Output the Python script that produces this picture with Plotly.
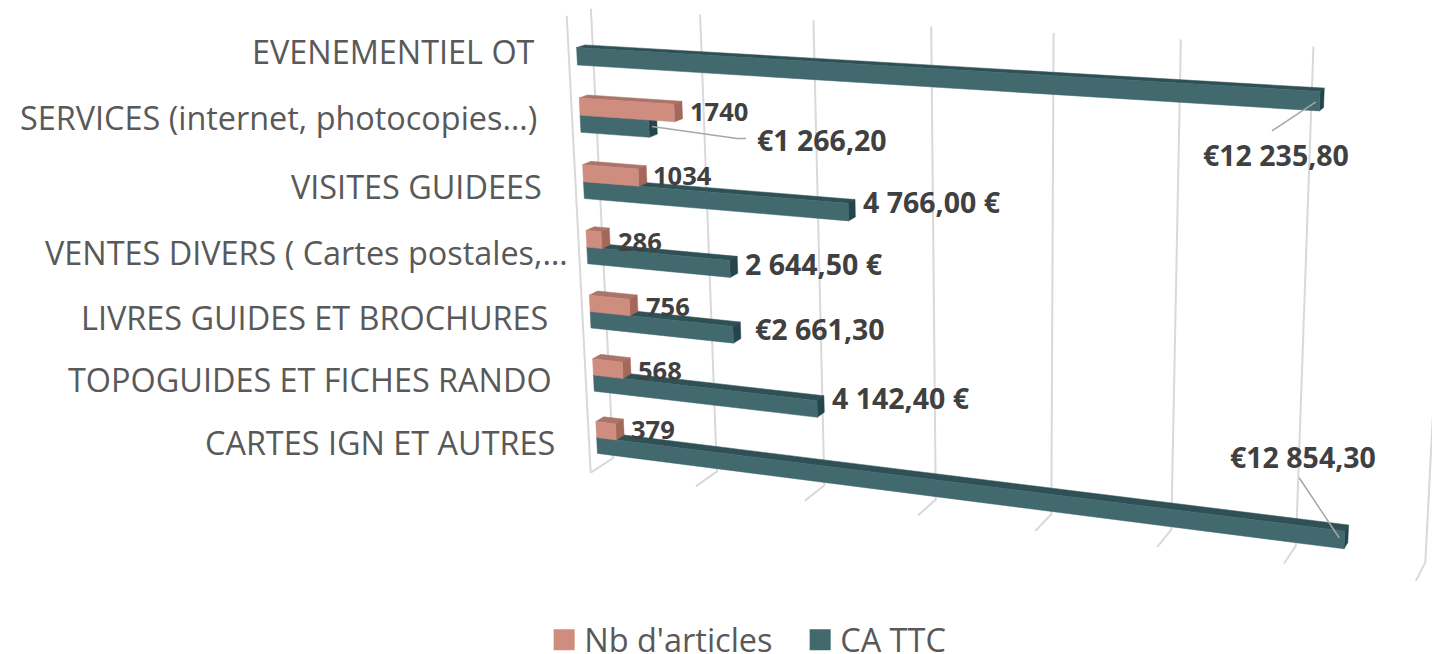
import numpy as np
import plotly.graph_objects as go

# ---- data (bottom category first)
categories = ["CARTES IGN ET AUTRES", "TOPOGUIDES ET FICHES RANDO", "LIVRES GUIDES ET BROCHURES",
              "VENTES DIVERS ( Cartes postales,…", "VISITES GUIDEES",
              "SERVICES (internet, photocopies…)", "EVENEMENTIEL OT"]
nb_articles = [379, 568, 756, 286, 1034, 1740, None]
ca_ttc = [12854.30, 4142.40, 2661.30, 2644.50, 4766.00, 1266.20, 12235.80]
nb_labels = ["379", "568", "756", "286", "1034", "1740", None]
ca_labels = ["€12 854,30", "4 142,40 €", "€2 661,30", "2 644,50 €", "4 766,00 €", "€1 266,20", "€12 235,80"]
value_ticks = [0, 2000, 4000, 6000, 8000, 10000, 12000, 14000]
series_names = ["Nb d'articles", "CA TTC"]

# ---- styling
PINK = dict(front="#CE8D7E", top="#AC7468", side="#A3675B")
TEAL = dict(front="#41696E", top="#2F5155", side="#23454B")
GRID = "#D9D9D9"
LEADER = "#A6A6A6"
CAT_FONT = dict(family="Open Sans", size=32.4, color="#595959")
NB_FONT = dict(family="Open Sans", size=25.5, color="#404040")
CA_FONT = dict(family="Open Sans", size=28.5, color="#404040")
cat_gap = [32, 32, 32, 9, 32, 33, 32]
cat_dy = [0, 0, 1, 1, 1, -1, 1]
nb_offset = [(5, 2), (5, 4), (6, 3), (6, 5), (4, 1), (6, 1), None]
ca_offset = [(-120, -77), (6, -6), (12, -1), (6, -1), (6, -6), (98, 15), (-123, 57)]
leaders = {0: [(-9, 4), (-49, -56)], 5: [(-5, 1), (80, 13), (89, 13)], 6: [(-8, 4), (-52, 33)]}

# ---- perspective of the 3-D chart box
AXIS_MAX = 14000.0
W = np.array([0.278, -0.3736, -0.0429])
T = np.array([0.0585, 0.0416, -2.6427])
DEPTH, HEIGHT = 0.0562, 0.5573
F, CX, CY = 2362.06, 931.52, 318.42
Z0, DZ, BAR_H = 0.0699, 0.1431, 0.0367
Y_FRONT, Y_BACK = 0.3303, 0.6828


def rotation(w):
    th = np.linalg.norm(w)
    k = w / th
    K = np.array([[0, -k[2], k[1]], [k[2], 0, -k[0]], [-k[1], k[0], 0]])
    return np.eye(3) + np.sin(th) * K + (1 - np.cos(th)) * K @ K


R = rotation(W) @ np.array([[1, 0, 0], [0, 0, 1], [0, -1, 0]], float)


def project(value, depth, height):
    c = R @ np.array([value / AXIS_MAX - 0.5, (depth - 0.5) * DEPTH, (height - 0.5) * HEIGHT]) + T
    return CX + F * c[0] / -c[2], CY - F * c[1] / -c[2]


def polygon(points):
    xy = [project(*p) for p in points]
    return [a for a, _ in xy], [b for _, b in xy]


fig = go.Figure()


def add_line(points, color, width=2):
    x, y = points
    fig.add_trace(go.Scatter(x=x, y=y, mode="lines", line=dict(color=color, width=width),
                             showlegend=False, hoverinfo="skip"))


def add_face(points, color):
    x, y = polygon(points + points[:1])
    fig.add_trace(go.Scatter(x=x, y=y, mode="lines", fill="toself", fillcolor=color,
                             line=dict(color=color, width=0.5), showlegend=False, hoverinfo="skip"))


def add_bar(value, lo, hi, colors):
    yf, yb = Y_FRONT, Y_BACK
    add_face([(0, yf, hi), (0, yb, hi), (value, yb, hi), (value, yf, hi)], colors["top"])
    add_face([(value, yf, lo), (value, yb, lo), (value, yb, hi), (value, yf, hi)], colors["side"])
    add_face([(0, yf, lo), (value, yf, lo), (value, yf, hi), (0, yf, hi)], colors["front"])


# walls and floor gridlines
add_line(polygon([(0, 0, 1), (0, 0, 0)]), GRID)
for tick in value_ticks:
    add_line(polygon([(tick, 1, 1), (tick, 1, 0), (tick, 0, 0)]), GRID)

# bars, furthest up first
for i in range(len(categories) - 1, -1, -1):
    mid = Z0 + i * DZ
    add_bar(ca_ttc[i], mid - BAR_H, mid, TEAL)
    if nb_articles[i] is not None:
        add_bar(nb_articles[i], mid, mid + BAR_H, PINK)

annotations = []
for i, name in enumerate(categories):
    px, py = project(0, 0, Z0 + i * DZ)
    annotations.append(dict(x=px - cat_gap[i], y=py + cat_dy[i], text=name, showarrow=False,
                            xanchor="right", yanchor="middle", font=CAT_FONT))

for i in range(len(categories)):
    mid = Z0 + i * DZ
    if nb_labels[i] is not None:
        px, py = project(nb_articles[i], Y_BACK, mid + BAR_H / 2)
        dx, dy = nb_offset[i]
        annotations.append(dict(x=px + dx, y=py + dy, text="<b>" + nb_labels[i] + "</b>", showarrow=False,
                                xanchor="left", yanchor="middle", font=NB_FONT))
    px, py = project(ca_ttc[i], Y_BACK, mid - BAR_H / 2)
    dx, dy = ca_offset[i]
    annotations.append(dict(x=px + dx, y=py + dy, text="<b>" + ca_labels[i] + "</b>", showarrow=False,
                            xanchor="left", yanchor="middle", font=CA_FONT))
    if i in leaders:
        add_line(([px + a for a, _ in leaders[i]], [py + b for _, b in leaders[i]]), LEADER, 1.5)

for name, colors in zip(series_names, (PINK, TEAL)):
    fig.add_trace(go.Scatter(x=[None], y=[None], mode="markers", name=name,
                             marker=dict(symbol="square", size=16, color=colors["front"],
                                         line=dict(width=5, color=colors["front"]))))

fig.update_layout(
    width=1432, height=654, margin=dict(l=0, r=0, t=0, b=0, autoexpand=False),
    paper_bgcolor="white", plot_bgcolor="white",
    xaxis=dict(range=[0, 1432], visible=False, fixedrange=True),
    yaxis=dict(range=[654, 0], visible=False, fixedrange=True),
    annotations=annotations,
    legend=dict(orientation="h", x=0.38, xanchor="left", y=0.0214, yanchor="middle",
                entrywidth=211, entrywidthmode="pixels",
                font=dict(family="Open Sans", size=32.5, color="#595959"), bgcolor="rgba(0,0,0,0)"),
)
fig.write_html("out.html", config={"displayModeBar": False},
               post_script="document.body.style.margin='0';")
